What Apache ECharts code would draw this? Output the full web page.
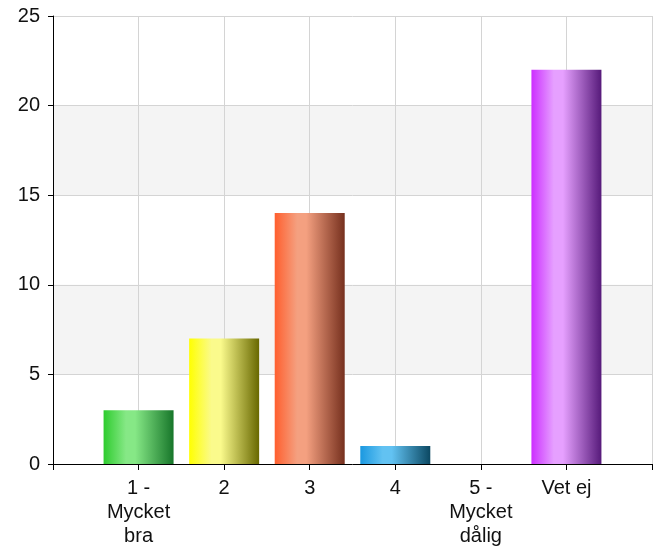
<!DOCTYPE html>
<html><head><meta charset="utf-8">
<script src="https://cdn.jsdelivr.net/npm/echarts@6/dist/echarts.min.js"></script>
<style>html,body{margin:0;padding:0;background:#fff}#c{width:661px;height:552px}</style>
</head><body><div id="c"></div>
<script>
const categories = ['', '1 -\nMycket\nbra', '2', '3', '4', '5 -\nMycket\ndålig', 'Vet ej', ''];
const values = [null, 3, 7, 14, 1, 0, 22, null];
const yTicks = [0, 5, 10, 15, 20, 25];
const barColors = [
  null,
  ['#2ecc2e', '#86e886', '#17762a'],
  ['#ffff00', '#fafa8c', '#686800'],
  ['#ff5f2e', '#f4a080', '#76301e'],
  ['#1a98e0', '#62c2f2', '#0b4862'],
  ['#888888', '#cccccc', '#444444'],
  ['#cc2eff', '#e6a0ff', '#561a7a'],
  null
];
function grad(c){
  return new echarts.graphic.LinearGradient(0,0,1,0,[
    {offset:0,color:c[0]},{offset:0.32,color:c[1]},{offset:0.45,color:c[1]},{offset:1,color:c[2]}
  ]);
}
const chart = echarts.init(document.getElementById('c'));
chart.setOption({
  animation:false,
  grid:{left:53,right:9,top:16,bottom:88,containLabel:false},
  xAxis:{
    type:'category', data:categories, boundaryGap:false,
    axisLine:{lineStyle:{color:'#000',width:1}},
    axisTick:{show:true,length:6,lineStyle:{color:'#000'}},
    axisLabel:{interval:0,fontFamily:'Liberation Sans',fontSize:20,color:'#111',lineHeight:24,margin:12},
    splitLine:{show:true,lineStyle:{color:'#d4d4d4'}}
  },
  yAxis:{
    type:'value', min:yTicks[0], max:yTicks[yTicks.length-1], interval:5,
    axisLine:{show:true,lineStyle:{color:'#000'}},
    axisTick:{show:true,length:5,lineStyle:{color:'#000'}},
    axisLabel:{fontFamily:'Liberation Sans',fontSize:20,color:'#111',margin:13},
    splitLine:{show:true,lineStyle:{color:'#d4d4d4'}},
    splitArea:{show:true,areaStyle:{color:['rgba(255,255,255,0)','#f4f4f4']}}
  },
  series:[{
    type:'bar', barWidth:70,
    data: values.map((v,i)=> v===null ? null : {value:v, itemStyle:{color:grad(barColors[i])}})
  }]
});
</script></body></html>
